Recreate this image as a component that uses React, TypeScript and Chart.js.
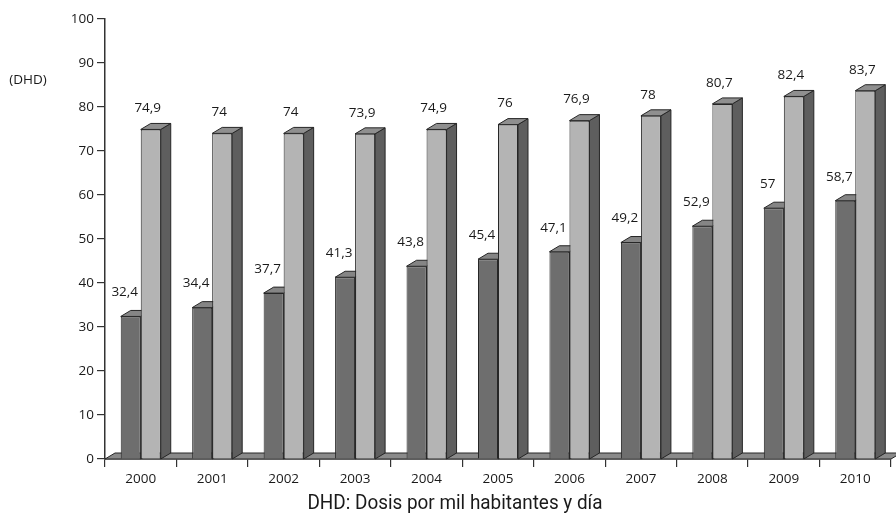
import React, { useEffect, useRef } from "react";
import { Chart, registerables } from "chart.js";

Chart.register(...registerables);

// Years on the x axis
const years = ["2000", "2001", "2002", "2003", "2004", "2005", "2006", "2007", "2008", "2009", "2010"];
// Front (dark) series, DHD
const darkValues = [32.4, 34.4, 37.7, 41.3, 43.8, 45.4, 47.1, 49.2, 52.9, 57, 58.7];
// Back (light) series, DHD
const lightValues = [74.9, 74, 74, 73.9, 74.9, 76, 76.9, 78, 80.7, 82.4, 83.7];
// Y axis range
const yMin = 0;
const yMax = 100;
const yStep = 10;

const unitLabel = "(DHD)";
const footnote = "DHD: Dosis por mil habitantes y día";

const DEPTH_X = 10;
const DEPTH_Y = 6;
const TEXT_COLOR = "#1a1a1a";
const EDGE = "#262626";

const fmt = (v: number) => String(v).replace(".", ",");

const faceColors = [
  { top: "#858585", side: "#5a5a5a" },
  { top: "#8f8f8f", side: "#5e5e5e" },
];

// Draws the floor slab and the side/top faces behind each bar front
const depthPlugin = {
  id: "depth3d",
  beforeDatasetsDraw(chart: any) {
    const { ctx, chartArea } = chart;
    const base = chart.scales.y.getPixelForValue(0);
    ctx.save();
    // floor slab
    ctx.beginPath();
    ctx.moveTo(chartArea.left, base);
    ctx.lineTo(chartArea.left + DEPTH_X, base - DEPTH_Y);
    ctx.lineTo(chartArea.right + DEPTH_X, base - DEPTH_Y);
    ctx.lineTo(chartArea.right, base);
    ctx.closePath();
    ctx.fillStyle = "#8a8a8a";
    ctx.fill();
    ctx.strokeStyle = EDGE;
    ctx.lineWidth = 1;
    ctx.stroke();

    chart.data.datasets.forEach((_ds: any, di: number) => {
      const meta = chart.getDatasetMeta(di);
      meta.data.forEach((bar: any) => {
        const { x, y, width } = bar.getProps(["x", "y", "width"], true);
        const L = x - width / 2;
        const R = x + width / 2;
        // side face
        ctx.beginPath();
        ctx.moveTo(R, y);
        ctx.lineTo(R + DEPTH_X, y - DEPTH_Y);
        ctx.lineTo(R + DEPTH_X, base - DEPTH_Y);
        ctx.lineTo(R, base);
        ctx.closePath();
        ctx.fillStyle = faceColors[di].side;
        ctx.fill();
        ctx.strokeStyle = EDGE;
        ctx.stroke();
        // top face
        ctx.beginPath();
        ctx.moveTo(L, y);
        ctx.lineTo(L + DEPTH_X, y - DEPTH_Y);
        ctx.lineTo(R + DEPTH_X, y - DEPTH_Y);
        ctx.lineTo(R, y);
        ctx.closePath();
        ctx.fillStyle = faceColors[di].top;
        ctx.fill();
        ctx.stroke();
      });
    });
    ctx.restore();
  },
  afterDatasetsDraw(chart: any) {
    const { ctx } = chart;
    ctx.save();
    ctx.font = "13.5px 'Open Sans'";
    ctx.fillStyle = TEXT_COLOR;
    ctx.textAlign = "center";
    ctx.textBaseline = "middle";
    chart.data.datasets.forEach((ds: any, di: number) => {
      const meta = chart.getDatasetMeta(di);
      meta.data.forEach((bar: any, i: number) => {
        const { x, y } = bar.getProps(["x", "y"], true);
        const dx = di === 0 ? -6 : -3;
        const dy = di === 0 ? 24 : 21;
        ctx.fillText(fmt(ds.data[i]), x + dx, y - dy);
      });
    });
    ctx.restore();
  },
  afterDraw(chart: any) {
    const { ctx } = chart;
    ctx.save();
    ctx.fillStyle = TEXT_COLOR;
    ctx.textBaseline = "middle";
    ctx.textAlign = "center";
    ctx.font = "13.5px 'Open Sans'";
    ctx.fillText(unitLabel, 28, 80);
    ctx.translate(455, 504);
    ctx.scale(0.9, 1);
    ctx.font = "21px Roboto";
    ctx.fillText(footnote, 0, 0);
    ctx.restore();
  },
};

export default function App() {
  const canvasRef = useRef<HTMLCanvasElement | null>(null);

  useEffect(() => {
    if (!canvasRef.current) return;
    const tickFont = { family: "'Open Sans'", size: 13.5 };
    const chart = new Chart(canvasRef.current, {
      type: "bar",
      data: {
        labels: years,
        datasets: [
          {
            label: "darkSeries",
            data: darkValues,
            backgroundColor: "#6e6e6e",
            borderColor: EDGE,
            borderWidth: 1,
            categoryPercentage: 0.56,
            barPercentage: 1,
          },
          {
            label: "lightSeries",
            data: lightValues,
            backgroundColor: "#b4b4b4",
            borderColor: EDGE,
            borderWidth: 1,
            categoryPercentage: 0.56,
            barPercentage: 1,
          },
        ],
      },
      options: {
        responsive: false,
        animation: false,
        layout: { padding: { top: 19, right: 5, left: 0, bottom: 0 } },
        plugins: {
          legend: { display: false },
          tooltip: { enabled: false },
          title: { display: false },
        },
        scales: {
          x: {
            offset: true,
            grid: {
              offset: true,
              drawOnChartArea: false,
              drawTicks: true,
              tickLength: 8,
              color: "#333",
              lineWidth: 1.2,
            },
            border: { display: true, color: "#333", width: 1.5 },
            ticks: { font: tickFont, color: TEXT_COLOR, padding: 4, maxRotation: 0 },
            afterFit: (scale: any) => {
              scale.height = 58;
            },
          },
          y: {
            min: yMin,
            max: yMax,
            ticks: { stepSize: yStep, font: tickFont, color: TEXT_COLOR, padding: 3 },
            grid: {
              drawOnChartArea: false,
              drawTicks: true,
              tickLength: 8,
              color: "#333",
              lineWidth: 1.2,
            },
            border: { display: true, color: "#333", width: 1.5 },
            afterFit: (scale: any) => {
              scale.width = 105;
            },
          },
        },
      },
      plugins: [depthPlugin],
    });
    return () => chart.destroy();
  }, []);

  return (
    <div style={{ position: "absolute", left: 0, top: 0, width: 896, height: 517, background: "#fff" }}>
      <canvas ref={canvasRef} width={896} height={517} />
    </div>
  );
}
